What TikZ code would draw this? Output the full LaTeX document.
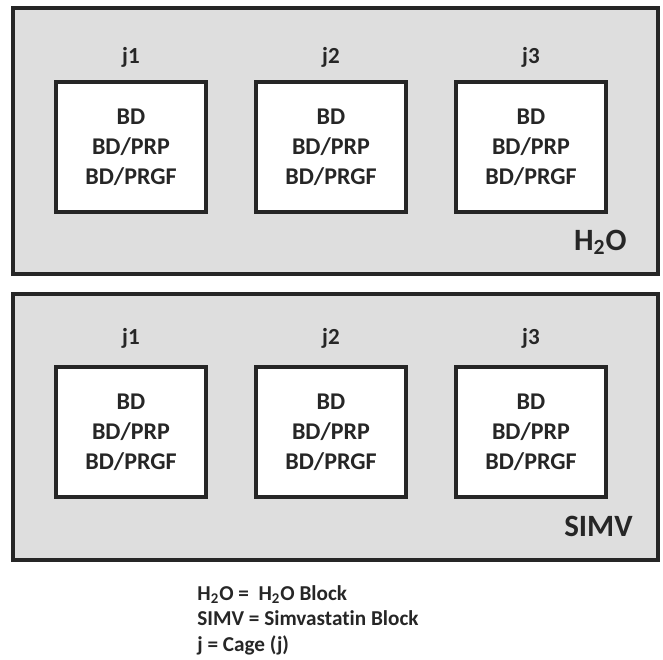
\documentclass[tikz,border=0pt]{standalone}
\usepackage{fontspec}
\setmainfont{Carlito}[Ligatures=NoCommon]
\usetikzlibrary{positioning}

\begin{document}
\begin{tikzpicture}[
  x=0.5pt, y=-0.5pt,
  block/.style={draw=black!85, line width=2pt, fill=black!13,
                minimum width=322.5pt, minimum height=133pt, inner sep=0pt},
  cage/.style={draw=black!85, line width=1.6pt, fill=white, text=black!85,
               minimum width=75pt, minimum height=65pt, align=center,
               font=\fontsize{12}{15}\selectfont\bfseries, inner sep=0pt},
  lbl/.style={font=\fontsize{11.5}{14}\selectfont\bfseries, text=black!85,
              anchor=base, inner sep=0pt},
  tag/.style={font=\fontsize{15.5}{18}\selectfont\bfseries, text=black!85,
              anchor=base east, inner sep=0pt},
]
\useasboundingbox (0,0) rectangle (663,659);

% the two blocks
\node[block] (h2o)  at (335.5,141) {};
\node[block] (simv) at (335.5,427) {};

% cages in each block
\foreach \i/\x in {1/131,2/331,3/531} {
  \node[cage] (hc\i) at (\x,147) {BD\\BD/PRP\\BD/PRGF};
  \node[lbl]  (hj\i) at (\x,63)  {j\i};
  \node[cage] (sc\i) at (\x,432) {BD\\BD/PRP\\BD/PRGF};
  \node[lbl]  (sj\i) at (\x,344) {j\i};
}

\node[tag] (htag) at (627,250) {H\textsubscript{2}O};
\node[tag] (stag) at (633,536) {SIMV};

% key
\node[anchor=north west, align=left, inner sep=0pt, text=black!85,
      font=\fontsize{10.6}{12.75}\selectfont\bfseries] (key) at (197,585)
     {H\textsubscript{2}O =\ \ H\textsubscript{2}O Block\\
      SIMV = Simvastatin Block\\
      j = Cage (j)};
\end{tikzpicture}
\end{document}
